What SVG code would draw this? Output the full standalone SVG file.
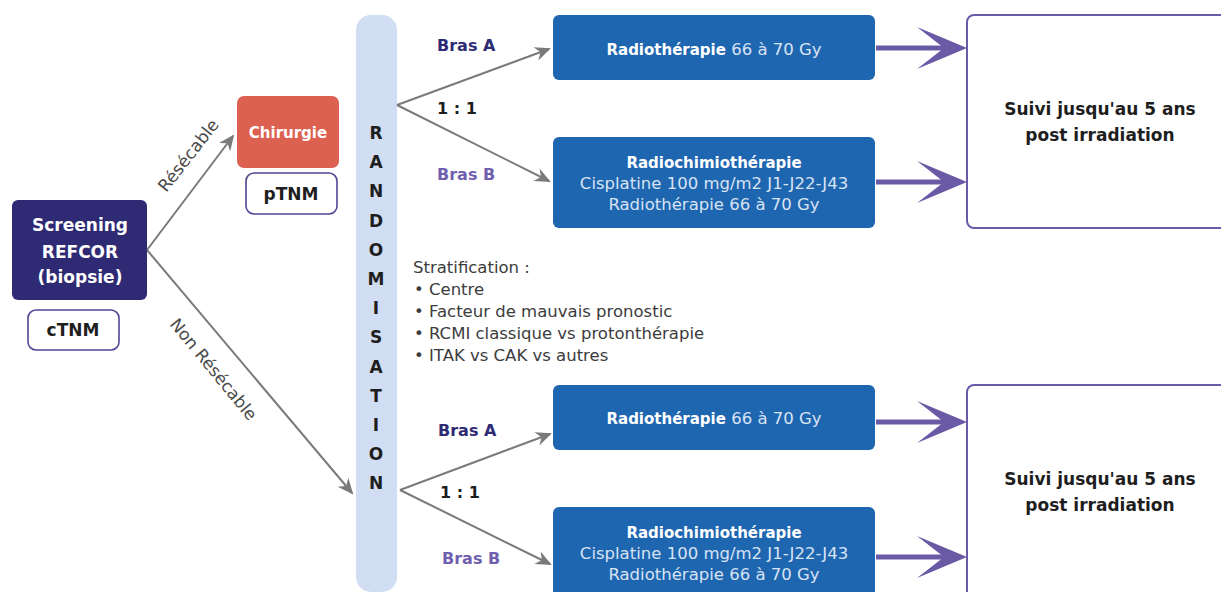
<svg xmlns="http://www.w3.org/2000/svg" width="1221" height="592" viewBox="0 0 1221 592">
<style>
  text { font-family: "DejaVu Sans", "Liberation Sans", sans-serif; }
  .wb { fill: #ffffff; font-weight: bold; }
  .navy { fill: #2e2a73; }
  .red { fill: #dc6150; }
  .tag { fill: #ffffff; stroke: #4d4792; stroke-width: 1.6; }
  .tagt { fill: #1e1e1e; font-weight: bold; font-size: 17px; text-anchor: middle; }
  .blue { fill: #1f66b1; }
  .bl { fill: #d8e3f3; font-size: 16.5px; }
  .suivi { fill: #ffffff; stroke: #6a5ba8; stroke-width: 2; }
  .suivit { fill: #1e1e1e; font-weight: bold; font-size: 17px; text-anchor: middle; }
  .rand { fill: #d1ddf2; }
  .rl { fill: #1e1e1e; font-weight: bold; font-size: 17px; text-anchor: middle; }
  .bra { fill: #2e2a73; font-weight: bold; font-size: 16px; }
  .brb { fill: #6f5fae; font-weight: bold; font-size: 16px; }
  .ratio { fill: #1e1e1e; font-weight: bold; font-size: 16px; }
  .strat { fill: #3c3c3c; font-size: 16.5px; }
  .lbl { fill: #4a4a4a; font-size: 17px; text-anchor: middle; }
  .gray { stroke: #7a7a7a; stroke-width: 2; fill: none; marker-end: url(#ga); }
  .purp { stroke: #6a5aa6; stroke-width: 5; fill: none; marker-end: url(#pa); }
</style>
<defs>
  <marker id="ga" markerUnits="userSpaceOnUse" markerWidth="18" markerHeight="16" viewBox="-17 -8 18 16" refX="-2" refY="0" orient="auto">
    <path d="M0,0 L-16,-7 L-11,0 L-16,7 Z" fill="#7a7a7a"/>
  </marker>
  <marker id="pa" markerUnits="userSpaceOnUse" markerWidth="54" markerHeight="46" viewBox="-52 -23 54 46" refX="-23" refY="0" orient="auto">
    <path d="M0,0 L-50,-21 L-23,0 L-50,21 Z" fill="#6a5aa6"/>
  </marker>
</defs>

<g id="randomisation">
  <rect class="rand" x="356" y="15" width="41" height="577" rx="15"/>
  <text class="rl" x="376" y="139">R</text>
  <text class="rl" x="376" y="168">A</text>
  <text class="rl" x="376" y="197">N</text>
  <text class="rl" x="376" y="227">D</text>
  <text class="rl" x="376" y="256">O</text>
  <text class="rl" x="376" y="285">M</text>
  <text class="rl" x="376" y="314">I</text>
  <text class="rl" x="376" y="343">S</text>
  <text class="rl" x="376" y="373">A</text>
  <text class="rl" x="376" y="402">T</text>
  <text class="rl" x="376" y="431">I</text>
  <text class="rl" x="376" y="460">O</text>
  <text class="rl" x="376" y="489">N</text>
</g>

<g id="connectors">
  <line class="gray" x1="147" y1="250" x2="233" y2="136"/>
  <line class="gray" x1="147" y1="250" x2="352" y2="493"/>
  <line class="gray" x1="397" y1="105" x2="549" y2="49"/>
  <line class="gray" x1="397" y1="105" x2="549" y2="181"/>
  <line class="gray" x1="400" y1="490" x2="550" y2="434"/>
  <line class="gray" x1="400" y1="490" x2="550" y2="564"/>
  <line class="purp" x1="876" y1="48" x2="944" y2="48"/>
  <line class="purp" x1="876" y1="182" x2="944" y2="182"/>
  <line class="purp" x1="876" y1="422" x2="944" y2="422"/>
  <line class="purp" x1="876" y1="557" x2="944" y2="557"/>
  <text class="lbl" transform="translate(193,159) rotate(-52)">Résécable</text>
  <text class="lbl" transform="translate(209,373) rotate(50.6)">Non Résécable</text>
  <text class="bra" x="437" y="51">Bras A</text>
  <text class="ratio" x="437" y="114">1 : 1</text>
  <text class="brb" x="437" y="180">Bras B</text>
  <text class="bra" x="438" y="436">Bras A</text>
  <text class="ratio" x="440" y="498">1 : 1</text>
  <text class="brb" x="442" y="564">Bras B</text>
</g>

<g id="screening">
  <rect class="navy" x="12" y="200" width="135" height="100" rx="6"/>
  <text class="wb" x="80" y="231" font-size="17" text-anchor="middle">Screening</text>
  <text class="wb" x="80" y="258" font-size="17" text-anchor="middle">REFCOR</text>
  <text class="wb" x="80" y="283" font-size="17" text-anchor="middle">(biopsie)</text>
</g>
<g id="ctnm">
  <rect class="tag" x="28" y="310" width="91" height="40" rx="8"/>
  <text class="tagt" x="73" y="336">cTNM</text>
</g>
<g id="chirurgie">
  <rect class="red" x="237" y="96" width="102" height="72" rx="7"/>
  <text class="wb" x="288" y="138" font-size="15" text-anchor="middle">Chirurgie</text>
</g>
<g id="ptnm">
  <rect class="tag" x="246" y="173" width="91" height="41" rx="8"/>
  <text class="tagt" x="291" y="200">pTNM</text>
</g>

<g id="stratification">
  <text class="strat" x="413" y="273">Stratification :</text>
  <text class="strat" x="414" y="295">• Centre</text>
  <text class="strat" x="414" y="317">• Facteur de mauvais pronostic</text>
  <text class="strat" x="414" y="339">• RCMI classique vs protonthérapie</text>
  <text class="strat" x="414" y="361">• ITAK vs CAK vs autres</text>
</g>

<g id="top-bras-a">
  <rect class="blue" x="553" y="15" width="322" height="65" rx="6"/>
  <text x="714" y="55" font-size="15" text-anchor="middle"><tspan class="wb">Radiothérapie</tspan><tspan class="bl"> 66 à 70 Gy</tspan></text>
</g>
<g id="top-bras-b">
  <rect class="blue" x="553" y="137" width="322" height="91" rx="6"/>
  <text class="wb" x="714" y="168" font-size="15" text-anchor="middle">Radiochimiothérapie</text>
  <text class="bl" x="714" y="189" text-anchor="middle">Cisplatine 100 mg/m2 J1-J22-J43</text>
  <text class="bl" x="714" y="210" text-anchor="middle">Radiothérapie 66 à 70 Gy</text>
</g>
<g id="bottom-bras-a">
  <rect class="blue" x="553" y="385" width="322" height="65" rx="6"/>
  <text x="714" y="424" font-size="15" text-anchor="middle"><tspan class="wb">Radiothérapie</tspan><tspan class="bl"> 66 à 70 Gy</tspan></text>
</g>
<g id="bottom-bras-b">
  <rect class="blue" x="553" y="507" width="322" height="91" rx="6"/>
  <text class="wb" x="714" y="538" font-size="15" text-anchor="middle">Radiochimiothérapie</text>
  <text class="bl" x="714" y="559" text-anchor="middle">Cisplatine 100 mg/m2 J1-J22-J43</text>
  <text class="bl" x="714" y="580" text-anchor="middle">Radiothérapie 66 à 70 Gy</text>
</g>

<g id="top-suivi">
  <rect class="suivi" x="967" y="15" width="266" height="213" rx="7"/>
  <text class="suivit" x="1100" y="115">Suivi jusqu'au 5 ans</text>
  <text class="suivit" x="1100" y="141">post irradiation</text>
</g>
<g id="bottom-suivi">
  <rect class="suivi" x="967" y="385" width="266" height="213" rx="7"/>
  <text class="suivit" x="1100" y="485">Suivi jusqu'au 5 ans</text>
  <text class="suivit" x="1100" y="511">post irradiation</text>
</g>
</svg>
